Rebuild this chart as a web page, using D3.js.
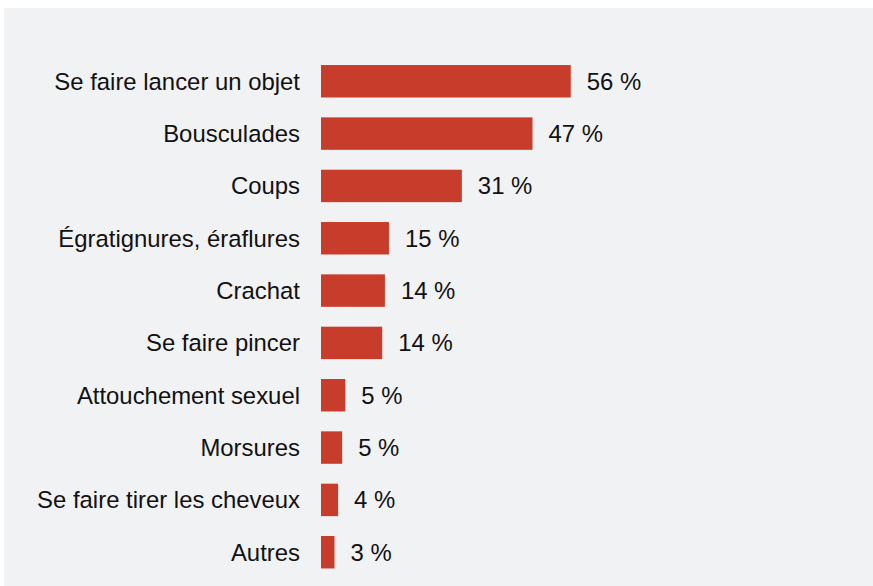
<!DOCTYPE html>
<html>
<head>
<meta charset="utf-8">
<script src="https://cdn.jsdelivr.net/npm/d3@7"></script>
<style>
  body { margin: 0; background: #ffffff; }
  svg { display: block; font-family: "Liberation Sans", Arial, sans-serif; }
</style>
</head>
<body>
<div id="chart"></div>
<script>
// categories and values (percent), top to bottom
const categories = [
  "Se faire lancer un objet",
  "Bousculades",
  "Coups",
  "Égratignures, éraflures",
  "Crachat",
  "Se faire pincer",
  "Attouchement sexuel",
  "Morsures",
  "Se faire tirer les cheveux",
  "Autres"
];
const values = [55.5, 47.0, 31.3, 15.1, 14.2, 13.6, 5.4, 4.7, 3.8, 3.0];
const valueLabels = ["56 %", "47 %", "31 %", "15 %", "14 %", "14 %", "5 %", "5 %", "4 %", "3 %"];

const width = 873, height = 586;
const barColor = "#c83c2b";
const bgColor = "#f1f2f4";
const fontSize = 23.9;

const svg = d3.select("#chart")
  .append("svg")
  .attr("width", width)
  .attr("height", height);

// grey panel
svg.append("rect")
  .attr("x", 4)
  .attr("y", 8)
  .attr("width", width - 4)
  .attr("height", height - 8)
  .attr("fill", bgColor);

const data = categories.map((c, i) => ({cat: c, value: values[i], label: valueLabels[i]}));

const x = d3.scaleLinear().domain([0, 100]).range([321, 771]);
const y = d3.scaleBand()
  .domain(categories)
  .range([55.1, 578.4])
  .paddingInner(0.38)
  .paddingOuter(0.19);

// category axis, no line, no ticks
const yAxis = svg.append("g")
  .attr("transform", "translate(321,0)")
  .call(d3.axisLeft(y).tickSize(0).tickPadding(21));
yAxis.select(".domain").remove();
yAxis.selectAll("text")
  .style("font-family", "'Liberation Sans', Arial, sans-serif")
  .style("font-size", fontSize + "px")
  .attr("fill", "#111")
  .attr("dy", "0.35em");

// bars
svg.append("g")
  .selectAll("rect")
  .data(data)
  .enter()
  .append("rect")
  .attr("x", x(0))
  .attr("y", d => y(d.cat))
  .attr("width", d => x(d.value) - x(0))
  .attr("height", y.bandwidth())
  .attr("fill", barColor);

// value labels
svg.append("g")
  .selectAll("text")
  .data(data)
  .enter()
  .append("text")
  .text(d => d.label)
  .attr("x", d => x(d.value) + 16)
  .attr("y", d => y(d.cat) + y.bandwidth() / 2)
  .attr("dy", "0.35em")
  .style("font-size", fontSize + "px")
  .attr("fill", "#111");
</script>
</body>
</html>
